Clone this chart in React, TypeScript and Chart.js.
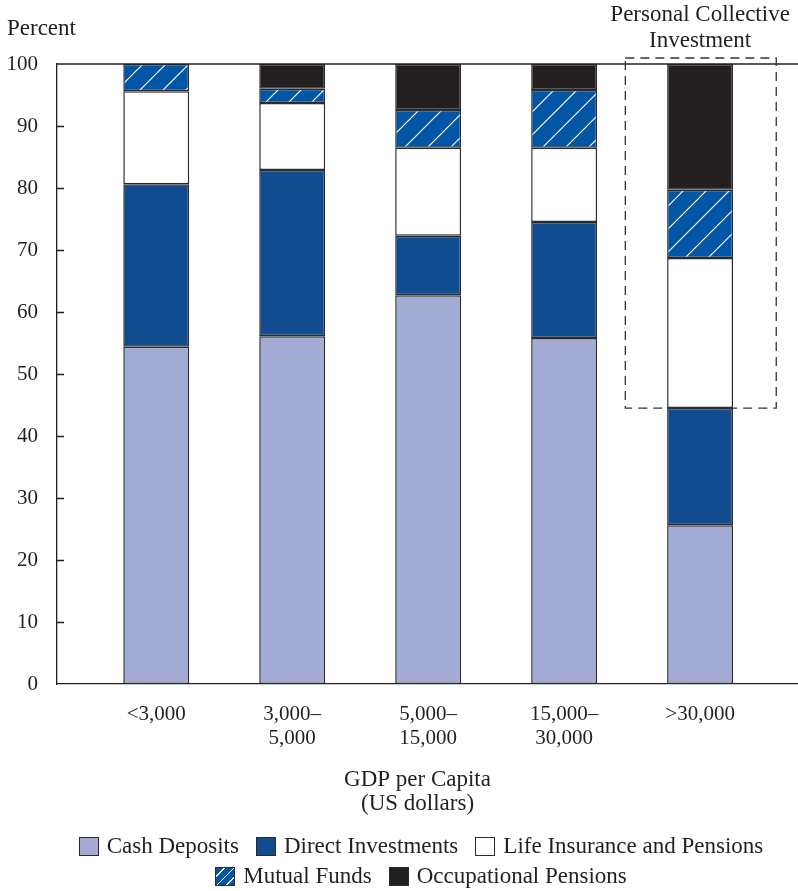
import React, { useEffect, useRef } from 'react';
import { Chart, registerables } from 'chart.js';

Chart.register(...registerables);

// ---- data ----
const categories: string[][] = [['<3,000'], ['3,000–', '5,000'], ['5,000–', '15,000'], ['15,000–', '30,000'], ['>30,000']];
const cashDeposits = [54.4, 56.1, 62.7, 55.8, 25.6];
const directInvestments = [26.2, 26.8, 9.6, 18.7, 18.9];
const lifeInsurancePensions = [15.0, 10.8, 14.2, 12.0, 24.2];
const mutualFunds = [4.4, 2.3, 6.1, 9.3, 11.0];
const occupationalPensions = [0, 4.0, 7.4, 4.2, 20.3];
const yTicks = [0, 10, 20, 30, 40, 50, 60, 70, 80, 90, 100];
const seriesNames = ['Cash Deposits', 'Direct Investments', 'Life Insurance and Pensions', 'Mutual Funds', 'Occupational Pensions'];
const legendRows = [[0, 1, 2], [3, 4]];
const axisTitleY = 'Percent';
const axisTitleX = ['GDP per Capita', '(US dollars)'];
const boxTitle = ['Personal Collective', 'Investment'];
const boxCategoryIndex = 4;

const FONT = "'Liberation Serif', serif";
const INK = '#231f20';
const BAR_BORDER = '#2b2b2b';
const COLORS = ['#a3aad4', '#114c91', '#ffffff', '#0055a5', '#231f20'];
const HATCH_CSS = 'repeating-linear-gradient(135deg, #0055a5 0px, #0055a5 5.5px, #ffffff 5.5px, #ffffff 6.7px)';

function makeHatch(bg: string, line: string): CanvasPattern | string {
  const size = 23;
  const c = document.createElement('canvas');
  c.width = size;
  c.height = size;
  const g = c.getContext('2d');
  if (!g) return bg;
  g.fillStyle = bg;
  g.fillRect(0, 0, size, size);
  g.strokeStyle = line;
  g.lineWidth = 1.2;
  g.beginPath();
  g.moveTo(-1, size + 1);
  g.lineTo(size + 1, -1);
  g.moveTo(-2, 2);
  g.lineTo(2, -2);
  g.moveTo(size - 2, size + 2);
  g.lineTo(size + 2, size - 2);
  g.stroke();
  return g.createPattern(c, 'repeat') || bg;
}

const extrasPlugin = {
  id: 'extras',
  afterDatasetsDraw(chart: any) {
    const { ctx, chartArea, scales } = chart;
    const x = scales.x;
    const y = scales.y;
    ctx.save();
    ctx.strokeStyle = INK;
    ctx.lineWidth = 1.3;
    // top frame line
    ctx.beginPath();
    ctx.moveTo(chartArea.left, chartArea.top);
    ctx.lineTo(chartArea.right, chartArea.top);
    ctx.stroke();
    // inward y ticks
    ctx.beginPath();
    yTicks.forEach((v) => {
      if (v === 0 || v === 100) return;
      const py = Math.round(y.getPixelForValue(v)) + 0.5;
      ctx.moveTo(chartArea.left, py);
      ctx.lineTo(chartArea.left + 7, py);
    });
    ctx.stroke();
    ctx.fillStyle = INK;
    ctx.font = `23px ${FONT}`;
    ctx.textBaseline = 'middle';
    // Percent label
    ctx.textAlign = 'left';
    ctx.fillText(axisTitleY, 7, chartArea.top - 35);
    // x axis title
    ctx.textAlign = 'center';
    const xc = (chartArea.left + chartArea.right) / 2 - 10;
    ctx.fillText(axisTitleX[0], xc, chartArea.bottom + 96);
    ctx.fillText(axisTitleX[1], xc, chartArea.bottom + 120);
    // dashed box
    const i = boxCategoryIndex;
    const bottomVal = cashDeposits[i] + directInvestments[i];
    const x0 = x.getPixelForValue(i - 0.55);
    const x1 = x.getPixelForValue(i + 0.56);
    const y0 = y.getPixelForValue(100.97);
    const y1 = y.getPixelForValue(bottomVal);
    ctx.setLineDash([9, 6]);
    ctx.lineWidth = 1.3;
    ctx.strokeStyle = '#333';
    ctx.strokeRect(x0, y0, x1 - x0, y1 - y0);
    ctx.setLineDash([]);
    // box title
    const cx = x.getPixelForValue(i);
    ctx.fillText(boxTitle[0], cx, chartArea.top - 49);
    ctx.fillText(boxTitle[1], cx, chartArea.top - 23);
    ctx.restore();
  },
};

function LegendBox({ idx }: { idx: number }) {
  const bg = idx === 3 ? HATCH_CSS : COLORS[idx];
  return (
    <span
      style={{
        display: 'inline-block',
        width: 20,
        height: 19,
        boxSizing: 'border-box',
        border: `1.5px solid ${BAR_BORDER}`,
        background: bg,
        marginRight: 8,
        flex: '0 0 auto',
      }}
    />
  );
}

export default function App() {
  const ref = useRef<HTMLCanvasElement | null>(null);

  useEffect(() => {
    document.body.style.margin = '0';
    const canvas = ref.current;
    if (!canvas) return;
    const hatch = makeHatch(COLORS[3], '#ffffff');
    const mk = (vals: number[]) => vals.map((v, i) => ({ x: i, y: v }));
    const common = { borderColor: BAR_BORDER, borderWidth: 1.5, borderSkipped: false as const, barPercentage: 0.485, categoryPercentage: 1 };
    const chart = new Chart(canvas, {
      type: 'bar',
      data: {
        datasets: [
          { label: seriesNames[0], data: mk(cashDeposits), backgroundColor: COLORS[0], ...common },
          { label: seriesNames[1], data: mk(directInvestments), backgroundColor: COLORS[1], ...common },
          { label: seriesNames[2], data: mk(lifeInsurancePensions), backgroundColor: COLORS[2], ...common },
          { label: seriesNames[3], data: mk(mutualFunds), backgroundColor: hatch as any, ...common },
          { label: seriesNames[4], data: mk(occupationalPensions), backgroundColor: COLORS[4], ...common },
        ] as any,
      },
      options: {
        animation: false,
        responsive: false,
        devicePixelRatio: 1,
        layout: { padding: { top: 64, left: 0, right: 0, bottom: 0 } },
        plugins: {
          tooltip: { enabled: false },
          legend: { display: false },
        },
        scales: {
          x: {
            type: 'linear',
            stacked: true,
            min: -0.73,
            max: 4.72,
            offset: false,
            grid: { display: false, drawTicks: false },
            border: { display: true, color: INK, width: 1.3 },
            afterBuildTicks: (s: any) => {
              s.ticks = categories.map((_, i) => ({ value: i }));
            },
            afterFit: (s: any) => {
              s.height = 207;
            },
            ticks: {
              autoSkip: false,
              maxRotation: 0,
              padding: 19,
              color: INK,
              font: { family: FONT, size: 21, lineHeight: 1.14 },
              callback: (v: any) => categories[Number(v)] as any,
            },
          },
          y: {
            stacked: true,
            min: 0,
            max: 100,
            grid: { display: false, drawTicks: false },
            border: { display: true, color: INK, width: 1.3 },
            afterFit: (s: any) => {
              s.width = 57;
            },
            ticks: {
              stepSize: 10,
              padding: 19,
              color: INK,
              font: { family: FONT, size: 21 },
            },
          },
        },
      } as any,
      plugins: [extrasPlugin],
    });
    return () => chart.destroy();
  }, []);

  return (
    <div style={{ position: 'relative', width: 798, height: 891, overflow: 'hidden', background: '#fff' }}>
      <canvas ref={ref} width={798} height={891} style={{ display: 'block' }} />
      <div
        style={{
          position: 'absolute',
          left: 0,
          top: 831,
          width: 798,
          boxSizing: 'border-box',
          paddingLeft: 44,
          fontFamily: FONT,
          fontSize: 23,
          color: INK,
        }}
      >
        {legendRows.map((row, r) => (
          <div key={r} style={{ display: 'flex', justifyContent: 'center', alignItems: 'center', height: 30, gap: 17, whiteSpace: 'nowrap' }}>
            {row.map((idx) => (
              <span key={idx} style={{ display: 'inline-flex', alignItems: 'center' }}>
                <LegendBox idx={idx} />
                <span>{seriesNames[idx]}</span>
              </span>
            ))}
          </div>
        ))}
      </div>
    </div>
  );
}
